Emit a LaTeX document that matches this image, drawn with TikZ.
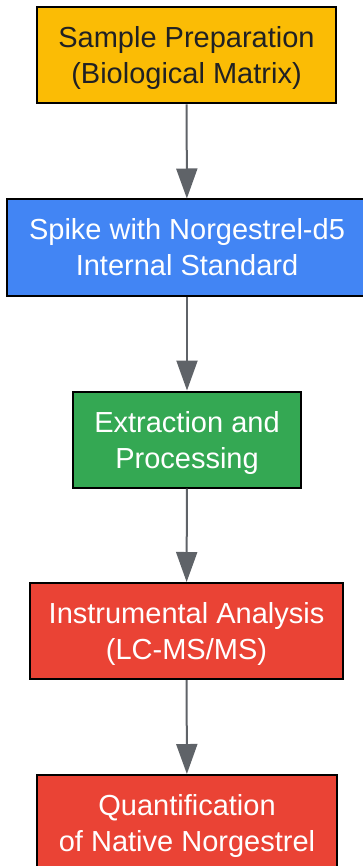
\documentclass[tikz,border=0pt]{standalone}
\usepackage{fontspec}
\setmainfont{Liberation Sans}
\usetikzlibrary{arrows.meta}
\definecolor{gyellow}{HTML}{FBBC05}
\definecolor{gblue}{HTML}{4285F4}
\definecolor{ggreen}{HTML}{34A853}
\definecolor{gred}{HTML}{EA4335}
\definecolor{ggray}{HTML}{5F6368}
\definecolor{gdark}{HTML}{202124}
\tikzset{
  stepbox/.style={draw=black, line width=2pt, align=center, inner sep=0pt,
    font=\fontsize{29}{36}\selectfont, minimum height=96pt,
    text height=66pt, text depth=9pt},
  flow/.style={draw=ggray, line width=2pt, -{Triangle[width=21pt,length=30pt]}}
}
\begin{document}
\begin{tikzpicture}[x=1pt,y=-1pt]
    \useasboundingbox (0,0) rectangle (362,866);
    \node[stepbox, fill=gyellow, text=gdark, minimum width=299pt] (prep) at (186.5,55.5) {Sample Preparation\\(Biological Matrix)};
    \node[stepbox, fill=gblue, text=white, minimum width=360pt] (spike) at (187,247.5) {Spike with Norgestrel-d5\\Internal Standard};
    \node[stepbox, fill=ggreen, text=white, minimum width=228pt] (extract) at (187,439.5) {Extraction and\\Processing};
    \node[stepbox, fill=gred, text=white, minimum width=313pt] (instr) at (186.5,631) {Instrumental Analysis\\(LC-MS/MS)};
    \node[stepbox, fill=gred, text=white, minimum width=300pt] (quant) at (187,823) {Quantification\\of Native Norgestrel};
    \draw[flow] (prep) -- (spike);
    \draw[flow] (spike) -- (extract);
    \draw[flow] (extract) -- (instr);
    \draw[flow] (instr) -- (quant);
\end{tikzpicture}
\end{document}
